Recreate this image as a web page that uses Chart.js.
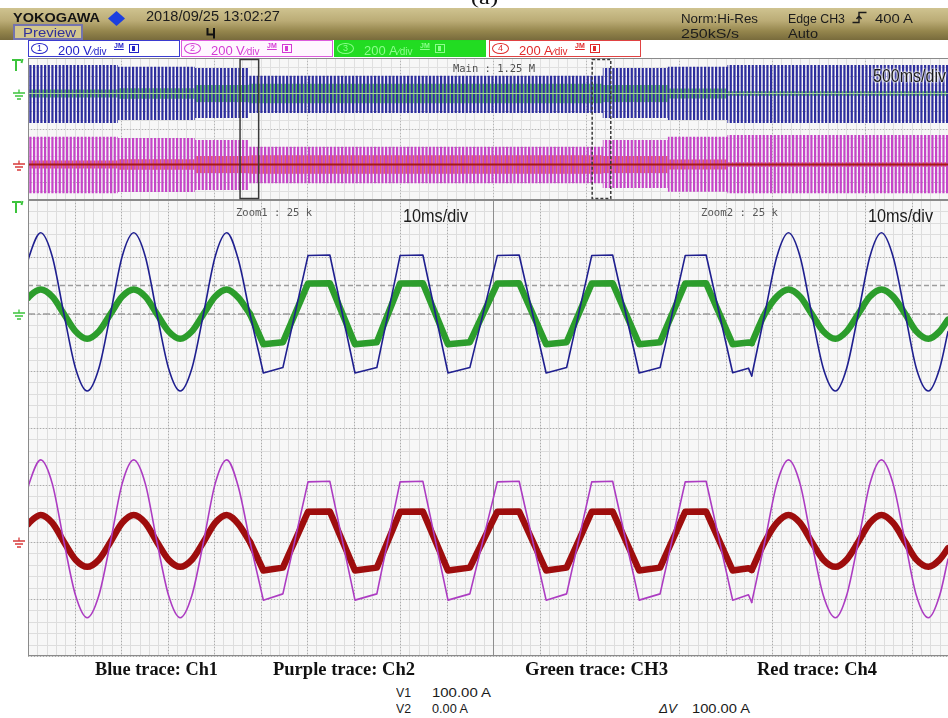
<!DOCTYPE html>
<html>
<head>
<meta charset="utf-8">
<title>YOKOGAWA capture 2018/09/25</title>
<script src="https://cdn.jsdelivr.net/npm/chart.js@4.4.1/dist/chart.umd.min.js"></script>
<style>
  html, body { margin: 0; padding: 0; background: #fff; }
  body { position: relative; width: 948px; height: 718px; overflow: hidden; font-family: "Liberation Sans", Arial, sans-serif; }
  .t { position: absolute; white-space: nowrap; line-height: 1; transform-origin: 0 0; }
  #hdr { position: absolute; left: 0; top: 8px; width: 948px; height: 32px;
         background: linear-gradient(180deg, #cfc390 0%, #bbac76 40%, #95864d 72%, #786b3c 100%); }
  #preview { position: absolute; left: 13px; top: 24px; width: 70px; height: 16px; box-sizing: border-box;
             border: 2px solid #7474ae; background: #d3c78e; }
  canvas { position: absolute; left: 0; }
  #ov { top: 57px; }
  #mn { top: 198px; }
  .box { position: absolute; top: 40px; height: 17px; width: 152px; box-sizing: border-box; border: 1px solid; }
  .circ { position: absolute; left: 2px; top: 2px; width: 17px; height: 11px; box-sizing: border-box;
          border: 1.4px solid; border-radius: 50%; font-size: 9px; line-height: 8px; text-align: center; }
  .sq { position: absolute; left: 100px; top: 3px; width: 10px; height: 9px; box-sizing: border-box; border: 1.2px solid; }
  .sq i { position: absolute; left: 2px; top: 1px; width: 3px; height: 5px; }
</style>
</head>
<body>
<div id="hdr"></div>
<div id="preview"></div>
<canvas id="ov" width="948" height="145"></canvas>
<canvas id="mn" width="948" height="462"></canvas>
<svg id="marks" style="position:absolute;left:0;top:0" width="948" height="60">
  <polygon points="116.5,11 125,18.5 116.5,26 108,18.5" fill="#1c3fe0"/>
  <path d="M207.5,28 V34.5 H214 M214,28 V38.5" stroke="#111" stroke-width="2" fill="none"/>
  <path d="M852.5,22.5 H859 V12.5 H866.5 M856.5,19 L859,16 L861.5,19" stroke="#1a1a1a" stroke-width="1.4" fill="none"/>
</svg>
<script>
// ---------------------------------------------------------------
// Zoom traces: time in ms across the two 10 ms/div windows
// (Zoom1 fills 0-100 ms, Zoom2 fills 100-200 ms of the display)
// ---------------------------------------------------------------
const sineATimes = [0, 0.23, 2.73, 5.23, 7.73, 10.23, 12.73, 15.23, 17.73, 20.23, 22.73, 25.23, 27.73, 30.23, 32.73, 35.23, 37.73, 40.23, 42.73, 45.2, 47.73];
const trapTimes  = [47.73, 50.6, 54.8, 60.2, 64.9, 70.3, 75.0, 80.0, 84.9, 90.3, 95.0, 100.9, 105.6, 111.4, 115.8, 121.2, 125.7, 131.4, 135.9, 141.3, 145.8, 151.5, 154.9, 155.6];
const sineBTimes = [155.6, 158.4, 161.0, 163.5, 166.0, 168.5, 171.0, 173.6, 176.0, 178.5, 181.0, 183.5, 186.0, 188.6, 191.0, 193.6, 196.0, 197.8];

// CH1 voltage (V)
const ch1SineA = [187, 201, 285, 201, 0, -191, -270, -191, 0, 201, 285, 201, 0, -191, -270, -191, 0, 201, 285, 192, 0];
const ch1Trap  = [0, -207, -188, 205, 207, -207, -188, 205, 207, -207, -188, 205, 207, -207, -188, 205, 207, -207, -188, 205, 207, -206, -190, -217];
const ch1SineB = [-217, 0, 201, 285, 201, 0, -191, -270, -191, 0, 201, 285, 201, 0, -191, -270, -191, -62];
// CH2 voltage (V)
const ch2SineA = [189, 204, 288, 204, 0, -188, -266, -188, 0, 204, 288, 204, 0, -188, -266, -188, 0, 204, 288, 195, 0];
const ch2Trap  = [0, -204, -182, 211, 213, -204, -182, 211, 213, -204, -182, 211, 213, -204, -182, 211, 213, -204, -182, 211, 213, -204, -185, -212];
const ch2SineB = [-212, 0, 204, 288, 204, 0, -188, -266, -188, 0, 204, 288, 204, 0, -188, -266, -188, -60];
// CH3 current (A)
const ch3SineA = [56, 61, 86, 61, 0, -61, -87, -61, 0, 61, 86, 61, 0, -61, -87, -61, 0, 61, 86, 58, 0];
const ch3Trap  = [0, -106, -99, 107, 108, -106, -99, 107, 108, -106, -99, 107, 108, -106, -99, 107, 108, -106, -99, 107, 108, -106, -100, -102];
const ch3SineB = [-102, 0, 61, 86, 61, 0, -61, -87, -61, 0, 61, 86, 61, 0, -61, -87, -61, -20];
// CH4 current (A)
const ch4SineA = [62, 67, 95, 67, 0, -62, -87, -62, 0, 67, 95, 67, 0, -62, -87, -62, 0, 67, 95, 64, 0];
const ch4Trap  = [0, -100, -90, 106, 107, -100, -90, 106, 107, -100, -90, 106, 107, -100, -90, 106, 107, -100, -90, 106, 107, -100, -92, -98];
const ch4SineB = [-98, 0, 67, 95, 67, 0, -62, -87, -62, 0, 67, 95, 67, 0, -62, -87, -62, -22];

// ---------------------------------------------------------------
// Main record (500 ms/div): envelope of each channel, time in s
// each value holds from its time up to the next one
// ---------------------------------------------------------------
const ovTimes = [0, 0.484, 0.898, 1.187, 3.09, 3.44, 3.76, 4.95];
const ovCh1Hi = [321, 302, 287, 200, 287, 302, 321, 321];
const ovCh1Lo = [-332, -299, -276, -220, -276, -299, -332, -332];
const ovCh2Hi = [313, 299, 276, 200, 276, 313, 332, 332];
const ovCh2Lo = [-325, -310, -287, -212, -265, -307, -325, -325];
const ovCh3Hi = [45, 60, 95, 110, 95, 55, 25, 25];
const ovCh3Lo = [-45, -60, -95, -110, -95, -55, -25, -25];
const ovCh4Hi = [45, 60, 95, 105, 95, 55, 25, 25];
const ovCh4Lo = [-45, -60, -95, -105, -95, -55, -25, -25];
const ovCh3Mid = [0, 0, 0, 0, 0, 0, 0, 0];
const ovCh4Mid = [0, 0, 0, 0, 0, 0, 0, 0];

// Zoom windows inside the main record (s) and their length
const zoomStarts = [1.14, 3.033];
const zoomSpan = 0.1;

// Horizontal cursors on CH3 (A)
const cursorV1 = 100.00;
const cursorV2 = 0.00;

// Channel settings shown in the header boxes
const chNumbers = ['1', '2', '3', '4'];
const chScale = [200, 200, 200, 200];
const chUnit = ['V', 'V', 'A', 'A'];
const traceLegend = ['Blue trace: Ch1', 'Purple trace: Ch2', 'Green trace: CH3', 'Red trace: Ch4'];

// ---------------------------------------------------------------
const pts = (t, v) => t.map((x, i) => ({ x, y: v[i] }));

const SANS = '"Liberation Sans", Arial, sans-serif';
const SERIF = '"Liberation Serif", "Times New Roman", serif';
const MONO = '"DejaVu Sans Mono", "Liberation Mono", monospace';
const CAP = { sans: 0.13, serif: 0.175, mono: 0.117 };

function put(txt, x, capTop, fs, w, color, o = {}) {
  const s = document.createElement('div');
  s.className = 't';
  s.textContent = txt;
  const fam = o.family || SANS;
  s.style.font = `${o.style || 'normal'} ${o.weight || 'normal'} ${fs}px ${fam}`;
  s.style.color = color;
  const off = fam === SERIF ? CAP.serif : fam === MONO ? CAP.mono : CAP.sans;
  s.style.left = x + 'px';
  s.style.top = (capTop - off * fs) + 'px';
  if (o.css) Object.assign(s.style, o.css);
  (o.parent || document.body).appendChild(s);
  if (w) {
    const nat = s.getBoundingClientRect().width;
    s.style.transform = `scaleX(${w / nat})`;
  }
  return s;
}

// ---- stripe fills for the compressed record ----
function stripes(color, offset, width) {
  const c = document.createElement('canvas');
  c.width = 11; c.height = 4;
  const g = c.getContext('2d');
  g.fillStyle = color;
  for (let k = -1; k <= 3; k++) g.fillRect(offset + k * 11 / 3, 0, width, 4);
  return document.getElementById('ov').getContext('2d').createPattern(c, 'repeat');
}

// ---- grid, cursors, markers ----
const scopeGrid = {
  id: 'scopeGrid',
  beforeDatasetsDraw(chart, args, o) {
    const { ctx, chartArea: a, scales } = chart;
    const xs = scales.x, ys = scales[o.yAxis];
    ctx.save();
    ctx.fillStyle = o.background;
    ctx.fillRect(a.left, a.top, a.right - a.left, a.bottom - a.top);
    ctx.lineWidth = 1;
    const vline = v => { const p = Math.round(xs.getPixelForValue(v)) + 0.5; ctx.beginPath(); ctx.moveTo(p, a.top); ctx.lineTo(p, a.bottom); ctx.stroke(); };
    const hline = v => { const p = Math.round(ys.getPixelForValue(v)) + 0.5; ctx.beginPath(); ctx.moveTo(a.left, p); ctx.lineTo(a.right, p); ctx.stroke(); };
    const each = (min, max, step, fn) => { for (let i = 0; min + i * step <= max + 1e-9; i++) fn(min + i * step); };
    ctx.strokeStyle = o.minorColor;
    each(xs.min, xs.max, o.xMinor, vline);
    each(ys.min, ys.max, o.yMinor, hline);
    ctx.strokeStyle = o.majorColor;
    ctx.setLineDash([1, 2]);
    each(xs.min, xs.max, o.xMajor, vline);
    each(ys.min, ys.max, o.yMajor, hline);
    ctx.setLineDash([]);
    if (o.center != null) { ctx.strokeStyle = o.centerColor; vline(o.center); }
    // cursors
    if (o.cursors) {
      const cy = scales[o.cursors.axis];
      ctx.strokeStyle = '#9d9d9d';
      ctx.lineWidth = 1.6;
      o.cursors.lines.forEach(c => {
        const p = cy.getPixelForValue(c.value);
        ctx.setLineDash(c.dash);
        ctx.beginPath(); ctx.moveTo(a.left, p); ctx.lineTo(a.right, p); ctx.stroke();
      });
      ctx.setLineDash([]);
    }
    ctx.restore();
  },
  afterDatasetsDraw(chart, args, o) {
    const { ctx, chartArea: a, scales } = chart;
    ctx.save();
    ctx.strokeStyle = '#8a8a8a';
    ctx.lineWidth = 1;
    ctx.beginPath();
    ctx.moveTo(a.left + 0.5, a.top); ctx.lineTo(a.left + 0.5, a.bottom);
    ctx.moveTo(a.left, a.top + 0.5); ctx.lineTo(a.right, a.top + 0.5);
    ctx.moveTo(a.left, a.bottom - 0.5); ctx.lineTo(a.right, a.bottom - 0.5);
    ctx.stroke();
    // zoom window frames on the record
    if (o.zoomBoxes) {
      const xs = scales.x;
      ctx.strokeStyle = '#3a3a3a';
      ctx.lineWidth = 1.5;
      zoomStarts.forEach((s, i) => {
        const x0 = xs.getPixelForValue(s), x1 = xs.getPixelForValue(s + zoomSpan);
        ctx.setLineDash(i === 0 ? [] : [3, 2]);
        ctx.strokeRect(x0, a.top + 1.5, x1 - x0, a.bottom - a.top - 3);
      });
      ctx.setLineDash([]);
    }
    // trigger mark
    ctx.strokeStyle = '#3cc43c';
    ctx.lineWidth = 2;
    ctx.beginPath();
    ctx.moveTo(12, a.top + 2); ctx.lineTo(21, a.top + 2);
    ctx.moveTo(16, a.top + 2); ctx.lineTo(16, a.top + 13);
    ctx.moveTo(22.5, a.top + 1); ctx.lineTo(21.5, a.top + 5);
    ctx.stroke();
    // ground marks
    ctx.lineWidth = 1.3;
    o.grounds.forEach(g => {
      const y = Math.round(scales[g.axis].getPixelForValue(0)) + 0.5;
      ctx.strokeStyle = g.color;
      ctx.beginPath();
      ctx.moveTo(19, y - 5); ctx.lineTo(19, y - 1.5);
      ctx.moveTo(13, y - 1.5); ctx.lineTo(25, y - 1.5);
      ctx.moveTo(15, y + 1.5); ctx.lineTo(23, y + 1.5);
      ctx.moveTo(17, y + 4.5); ctx.lineTo(21, y + 4.5);
      ctx.stroke();
    });
    ctx.restore();
  }
};

const common = {
  responsive: false,
  animation: false,
  devicePixelRatio: 1,
  events: [],
  plugins: { legend: { display: false }, tooltip: { enabled: false } },
  elements: { point: { radius: 0 } }
};

// ---------------- main record (500 ms/div) ----------------
// 'before' holds each value until the next time stamp
function band(hi, lo, axis, pattern, order) {
  return [
    { data: pts(ovTimes, hi), yAxisID: axis, stepped: 'before', borderWidth: 0, borderColor: 'transparent', fill: false, order },
    { data: pts(ovTimes, lo), yAxisID: axis, stepped: 'before', borderWidth: 0, borderColor: 'transparent', fill: '-1', backgroundColor: pattern, order }
  ];
}

new Chart(document.getElementById('ov'), {
  type: 'line',
  data: {
    datasets: [
      ...band(ovCh1Hi, ovCh1Lo, 'y1', stripes('#2e2e9e', 0, 2.2), 1),
      ...band(ovCh2Hi, ovCh2Lo, 'y2', stripes('#c545c8', 0, 2.2), 1),
      ...band(ovCh3Hi, ovCh3Lo, 'y3', stripes('#62c35e', 1.85, 2.0), 2),
      ...band(ovCh4Hi, ovCh4Lo, 'y4', stripes('#e4625f', 1.85, 2.0), 2),
      { data: pts(ovTimes, ovCh3Mid), yAxisID: 'y3', stepped: 'before', borderColor: '#a9cfa6', borderWidth: 1.2, fill: false, order: 0 },
      { data: pts(ovTimes, ovCh4Mid), yAxisID: 'y4', stepped: 'before', borderColor: '#a51818', borderWidth: 2, fill: false, order: 0 }
    ]
  },
  options: {
    ...common,
    layout: { padding: { left: 28, right: 0, top: 1, bottom: 2 } },
    scales: {
      x: { type: 'linear', min: 0, max: 4.946, display: false },
      y1: { type: 'linear', min: -1200, max: 400, display: false },
      y2: { type: 'linear', min: -400, max: 1200, display: false },
      y3: { type: 'linear', min: -1200, max: 400, display: false },
      y4: { type: 'linear', min: -400, max: 1200, display: false }
    },
    plugins: {
      ...common.plugins,
      scopeGrid: {
        yAxis: 'y1', background: '#f7f7f7', minorColor: '#e0e0e0', majorColor: '#b4b4b4',
        xMinor: 0.05, xMajor: 0.5, yMinor: 100, yMajor: 200,
        zoomBoxes: true,
        grounds: [{ axis: 'y3', color: '#3cc43c' }, { axis: 'y4', color: '#d83a3a' }]
      }
    }
  },
  plugins: [scopeGrid]
});

// ---------------- zoom windows (10 ms/div) ----------------
function trace(t, v, axis, color, width, curved, order) {
  return {
    data: pts(t, v), yAxisID: axis, borderColor: color, borderWidth: width,
    fill: false, order, tension: curved ? 0.4 : 0,
    cubicInterpolationMode: curved ? 'monotone' : 'default',
    borderJoinStyle: 'round', borderCapStyle: 'round'
  };
}
const BLUE = '#1f1f8f', PURPLE = '#ac3cc2', GREEN = '#2c9d2c', RED = '#9e0d0d';

new Chart(document.getElementById('mn'), {
  type: 'line',
  data: {
    datasets: [
      trace(sineATimes, ch1SineA, 'y1', BLUE, 1.6, true, 0),
      trace(trapTimes, ch1Trap, 'y1', BLUE, 1.6, false, 0),
      trace(sineBTimes, ch1SineB, 'y1', BLUE, 1.6, true, 0),
      trace(sineATimes, ch2SineA, 'y2', PURPLE, 1.6, true, 1),
      trace(trapTimes, ch2Trap, 'y2', PURPLE, 1.6, false, 1),
      trace(sineBTimes, ch2SineB, 'y2', PURPLE, 1.6, true, 1),
      trace(sineATimes, ch3SineA, 'y3', GREEN, 6.5, true, 2),
      trace(trapTimes, ch3Trap, 'y3', GREEN, 6.5, false, 2),
      trace(sineBTimes, ch3SineB, 'y3', GREEN, 6.5, true, 2),
      trace(sineATimes, ch4SineA, 'y4', RED, 6.5, true, 3),
      trace(trapTimes, ch4Trap, 'y4', RED, 6.5, false, 3),
      trace(sineBTimes, ch4SineB, 'y4', RED, 6.5, true, 3)
    ]
  },
  options: {
    ...common,
    layout: { padding: { left: 28, right: 0, top: 2, bottom: 4 } },
    scales: {
      x: { type: 'linear', min: 0, max: 197.8, display: false },
      y1: { type: 'linear', min: -1200, max: 400, display: false },
      y2: { type: 'linear', min: -400, max: 1200, display: false },
      y3: { type: 'linear', min: -1200, max: 400, display: false },
      y4: { type: 'linear', min: -400, max: 1200, display: false }
    },
    plugins: {
      ...common.plugins,
      scopeGrid: {
        yAxis: 'y1', background: '#f7f7f7', minorColor: '#dddddd', majorColor: '#ababab',
        xMinor: 2, xMajor: 10, yMinor: 40, yMajor: 200,
        center: 100, centerColor: '#8e8e8e',
        cursors: { axis: 'y3', lines: [{ value: cursorV1, dash: [5, 3] }, { value: cursorV2, dash: [7, 3, 2, 3] }] },
        grounds: [{ axis: 'y3', color: '#3cc43c' }, { axis: 'y4', color: '#d83a3a' }]
      }
    }
  },
  plugins: [scopeGrid]
});

// ---------------- header and labels ----------------
put('(a)', 471, -8, 17, 27, '#111', { family: SERIF });
put('YOKOGAWA', 13, 11.5, 13, 87, '#141414', { weight: 'bold' });
put('2018/09/25 13:02:27', 146, 10, 14.5, 134, '#1c1c1c');
put('Preview', 23, 27, 13.5, 53, '#30309a');
put('Norm:Hi-Res', 681, 12.5, 13, 77, '#1c1c1c');
put('250kS/s', 681, 27.5, 13, 58, '#1c1c1c');
put('Edge CH3', 788, 12.5, 13, 57, '#1c1c1c');
put('400 A', 875, 12.5, 13, 38, '#1c1c1c');
put('Auto', 788, 27.5, 13, 30, '#1c1c1c');

const boxStyles = [
  { left: 28, border: '#3b3bd0', fill: '#ffffff', text: '#2323c8' },
  { left: 181, border: '#dd5ddd', fill: '#fff6ff', text: '#d43ad4' },
  { left: 334, border: '#22d822', fill: '#22dc22', text: '#8cff8c' },
  { left: 489, border: '#e04242', fill: '#ffffff', text: '#e02a2a' }
];
boxStyles.forEach((b, i) => {
  const d = document.createElement('div');
  d.className = 'box';
  Object.assign(d.style, { left: b.left + 'px', borderColor: b.border, background: b.fill, color: b.text });
  const c = document.createElement('div');
  c.className = 'circ';
  c.style.borderColor = b.text;
  c.textContent = chNumbers[i];
  d.appendChild(c);
  put(String(chScale[i]), 29, 3.5, 13, 22, b.text, { parent: d });
  put(chUnit[i], 54, 3.5, 13, 9, b.text, { parent: d });
  put('\u2215div', 63, 6.5, 10, 20, b.text, { parent: d });
  put('JM', 85, 1.5, 7, 11, b.text, { parent: d, weight: 'bold', css: { textDecoration: 'underline' } });
  const sq = document.createElement('div');
  sq.className = 'sq';
  sq.style.borderColor = b.text;
  const fillIn = document.createElement('i');
  fillIn.style.background = b.text;
  sq.appendChild(fillIn);
  d.appendChild(sq);
  document.body.appendChild(d);
});

// record / zoom annotations
put('Main : 1.25 M', 453, 63.5, 11, 82, '#505050', { family: MONO });
put('500ms/div', 873, 67, 19, 73, '#1a1a1a', { css: { textShadow: '0 0 2px #fff, 0 0 2px #fff, 0 0 3px #fff' } });
put('Zoom1 : 25 k', 236, 207.5, 11, 76, '#585858', { family: MONO });
put('10ms/div', 403, 207, 19, 65, '#1a1a1a');
put('Zoom2 : 25 k', 700.5, 207.5, 11, 77, '#585858', { family: MONO });
put('10ms/div', 868, 207, 19, 65, '#1a1a1a');

// trace legend and cursor read-out
const legendX = [95, 273, 525, 757];
const legendW = [123, 142, 143, 120];
traceLegend.forEach((s, i) => put(s, legendX[i], 662, 18, legendW[i], '#111', { family: SERIF, weight: 'bold' }));
put('V1', 396, 688, 12.5, 15, '#1a1a1a');
put(cursorV1.toFixed(2) + ' A', 432, 688, 12.5, 59, '#1a1a1a');
put('V2', 396, 703.5, 12.5, 15, '#1a1a1a');
put(cursorV2.toFixed(2) + ' A', 432, 703.5, 12.5, 36, '#1a1a1a');
put('\u0394V', 659, 703.5, 12.5, 18, '#1a1a1a', { style: 'italic' });
put((cursorV1 - cursorV2).toFixed(2) + ' A', 692, 703.5, 12.5, 58, '#1a1a1a');
</script>
</body>
</html>
